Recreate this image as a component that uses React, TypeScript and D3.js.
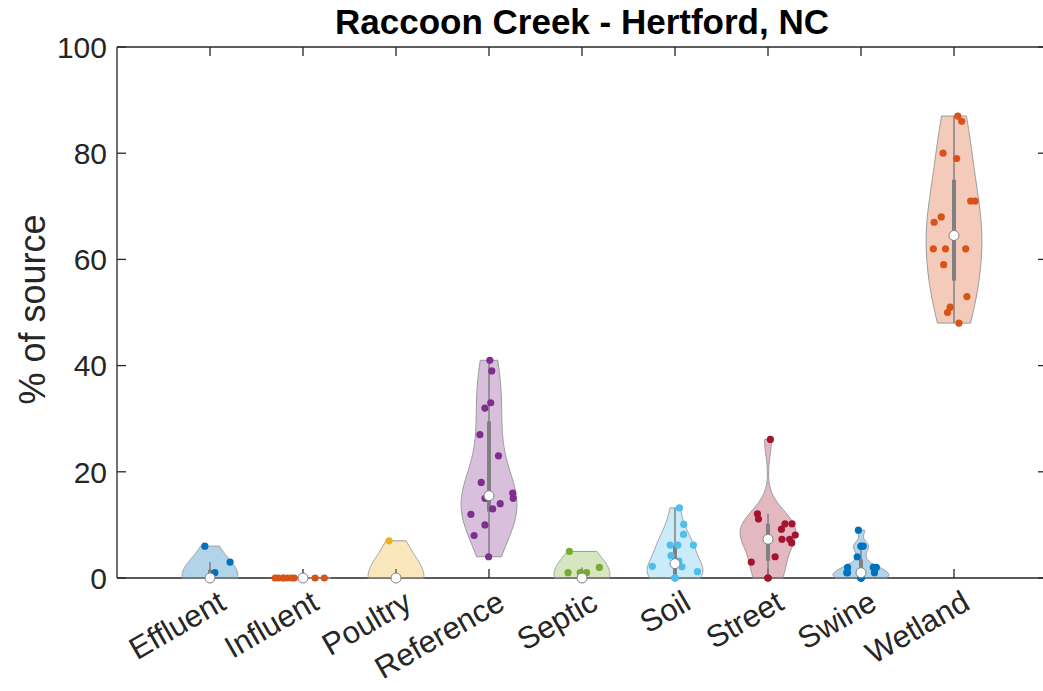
import React from 'react';
import * as d3 from 'd3';

const title = 'Raccoon Creek - Hertford, NC';
const yLabel = '% of source';
const categories = ['Effluent', 'Influent', 'Poultry', 'Reference', 'Septic', 'Soil', 'Street', 'Swine', 'Wetland'];
const effluent = [0, 0, 0, 0, 0, 0, 1, 3, 6];
const influent = [0, 0, 0, 0, 0, 0, 0, 0, 0];
const poultry = [0, 0, 0, 0, 0, 0, 7];
const reference = [4, 8, 10, 12, 13, 14, 15, 15, 16, 18, 23, 27, 32, 33, 39, 41];
const septic = [0, 0, 0, 0, 0, 0, 1, 1, 1, 2, 5];
const soil = [0, 0, 0, 0, 0, 1.2, 2.1, 2.2, 3.2, 4.2, 6.2, 6.2, 6.2, 8.2, 10.1, 13.2];
const street = [0, 0, 0, 3, 4, 6.6, 7.3, 7.3, 8.1, 9.2, 10.2, 10.2, 11.1, 12.1, 26.1];
const swine = [0, 0, 0, 0, 0, 1, 1, 1, 2, 2, 2, 4, 6, 6, 9];
const wetland = [48, 50, 51, 53, 59, 62, 62, 62, 67, 68, 71, 71, 79, 80, 86, 87];
const seriesValues = [effluent, influent, poultry, reference, septic, soil, street, swine, wetland];
const bandwidths = [3, 1, 4, 5.9, 3.5, 2.4, 3.0, 0.9, 8];
const seriesColors = ['#0072BD', '#D95319', '#EDB120', '#7E2F8E', '#77AC30', '#4DBEEE', '#A2142F', '#0072BD', '#D95319'];
const yTicks = [0, 20, 40, 60, 80, 100];

const VW = 0.3;
const FONT = 'Arial, "Liberation Sans", Helvetica, sans-serif';
const AX = '#262626';

function mulberry32(a: number) {
  return function () {
    a |= 0; a = (a + 0x6d2b79f5) | 0;
    let t = Math.imul(a ^ (a >>> 15), 1 | a);
    t = (t + Math.imul(t ^ (t >>> 7), 61 | t)) ^ t;
    return ((t ^ (t >>> 14)) >>> 0) / 4294967296;
  };
}

function mq(sorted: number[], p: number) {
  const n = sorted.length;
  const pos = n * p + 0.5;
  if (pos <= 1) return sorted[0];
  if (pos >= n) return sorted[n - 1];
  const lo = Math.floor(pos);
  const f = pos - lo;
  return sorted[lo - 1] + f * (sorted[lo] - sorted[lo - 1]);
}

function stats(vals: number[], bw: number, seed: number) {
  const s = [...vals].sort((a, b) => a - b);
  const mn = s[0], mx = s[s.length - 1];
  const med = mq(s, 0.5), q1 = mq(s, 0.25), q3 = mq(s, 0.75);
  const iqr = q3 - q1;
  const lw = s.find((v) => v >= q1 - 1.5 * iqr) as number;
  const uw = [...s].reverse().find((v) => v <= q3 + 1.5 * iqr) as number;
  let grid: { v: number; w: number }[] = [];
  const degenerate = mx === mn;
  if (degenerate) {
    grid = [{ v: mn, w: VW }, { v: mn, w: VW }];
  } else {
    const N = 100;
    const raw: { v: number; d: number }[] = [];
    for (let i = 0; i < N; i++) {
      const v = mn + ((mx - mn) * i) / (N - 1);
      let d = 0;
      for (const x of vals) d += Math.exp(-((v - x) ** 2) / (2 * bw * bw));
      raw.push({ v, d });
    }
    const maxD = d3.max(raw, (r) => r.d) as number;
    grid = raw.map((r) => ({ v: r.v, w: (r.d / maxD) * VW }));
  }
  const widthAt = (v: number) => {
    if (degenerate) return VW;
    const t = ((v - mn) / (mx - mn)) * (grid.length - 1);
    const i = Math.min(grid.length - 2, Math.floor(t));
    const f = t - i;
    return grid[i].w * (1 - f) + grid[i + 1].w * f;
  };
  const rnd = mulberry32(seed);
  const pts = vals.map((v) => {
    const j = 2 * (rnd() - 0.5);
    let off = 0;
    if (degenerate) off = j * VW;
    else if (v !== 0) off = j * widthAt(v);
    return { v, off };
  });
  return { grid, med, q1, q3, lw, uw, pts };
}

export default function App() {
  const W = 1043, H = 691;
  const x = d3.scaleLinear().domain([0, 10]).range([117, 1047]);
  const y = d3.scaleLinear().domain([0, 100]).range([578, 47]);
  const [x0, x1] = x.range();
  const [yb, yt] = y.range();
  const tl = 9;

  const groups = seriesValues.map((vals, i) => ({ ...stats(vals, bandwidths[i], 101 + i * 17), i }));

  return (
    <svg width={W} height={H} style={{ position: 'absolute', left: 0, top: 0, background: '#fff' }} fontFamily={FONT}>
      <rect x={0} y={0} width={W} height={H} fill="#fff" />
      <g stroke={AX} strokeWidth={1.3} fill="none">
        <line x1={x0} y1={yb} x2={x1} y2={yb} />
        <line x1={x0} y1={yt} x2={x1} y2={yt} />
        <line x1={x0} y1={yt} x2={x0} y2={yb} />
        <line x1={x1} y1={yt} x2={x1} y2={yb} />
        {yTicks.map((t) => (
          <g key={'yt' + t}>
            <line x1={x0} x2={x0 + tl} y1={y(t)} y2={y(t)} />
            <line x1={x1} x2={x1 - tl} y1={y(t)} y2={y(t)} />
          </g>
        ))}
        {categories.map((c, i) => (
          <g key={'xt' + c}>
            <line x1={x(i + 1)} x2={x(i + 1)} y1={yb} y2={yb - tl} />
            <line x1={x(i + 1)} x2={x(i + 1)} y1={yt} y2={yt + tl} />
          </g>
        ))}
      </g>
      {yTicks.map((t) => (
        <text key={'yl' + t} x={x0 - 10} y={y(t)} dy="0.36em" textAnchor="end" fontSize={30} fill={AX}>
          {t}
        </text>
      ))}
      {categories.map((c, i) => (
        <text
          key={'xl' + c}
          transform={`translate(${x(i + 1) + 6},${yb + 10}) rotate(-30)`}
          dy="0.75em"
          textAnchor="end"
          fontSize={31}
          fill={AX}
        >
          {c}
        </text>
      ))}
      <text transform={`translate(45,${(yt + yb) / 2 - 3}) rotate(-90)`} textAnchor="middle" fontSize={36} fill={AX}>
        {yLabel}
      </text>
      <text x={(x0 + x1) / 2} y={34} textAnchor="middle" fontSize={35} fontWeight="bold" fill="#000">
        {title}
      </text>

      {groups.map((g) => {
        const cx = g.i + 1;
        const color = seriesColors[g.i];
        const left = g.grid.map((p) => [x(cx - p.w), y(p.v)] as [number, number]);
        const right = [...g.grid].reverse().map((p) => [x(cx + p.w), y(p.v)] as [number, number]);
        const path = d3.line()([...left, ...right]) + 'Z';
        return (
          <g key={'v' + g.i}>
            <path d={path} fill={color} fillOpacity={0.3} stroke="#9a9a9a" strokeWidth={1} />
            <line x1={x(cx)} x2={x(cx)} y1={y(g.lw)} y2={y(g.uw)} stroke="#808080" strokeWidth={1.5} />
            <line x1={x(cx)} x2={x(cx)} y1={y(g.q1)} y2={y(g.q3)} stroke="#808080" strokeWidth={4} />
            {g.pts.map((p, k) => (
              <circle key={k} cx={x(cx + p.off)} cy={y(p.v)} r={3.6} fill={color} />
            ))}
            <circle cx={x(cx)} cy={y(g.med)} r={5} fill="#fff" stroke="#808080" strokeWidth={1} />
          </g>
        );
      })}
    </svg>
  );
}
